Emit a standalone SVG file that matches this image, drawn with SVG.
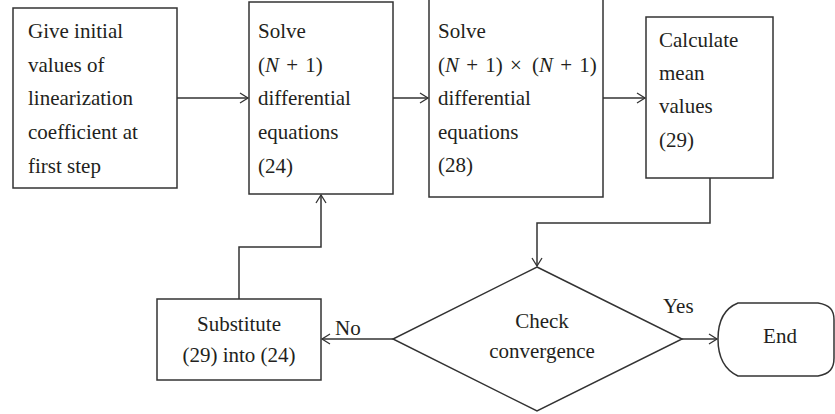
<svg xmlns="http://www.w3.org/2000/svg" width="835" height="414" viewBox="0 0 835 414">
<defs>
<marker id="arr" markerUnits="userSpaceOnUse" markerWidth="12" markerHeight="12" refX="9" refY="6" orient="auto">
<path d="M1,1 L9,6 L1,11" fill="none" stroke="#333" stroke-width="1.3"/>
</marker>
<style>
.box{fill:#fff;stroke:#333;stroke-width:1.5}
.ln{fill:none;stroke:#333;stroke-width:1.5}
text{font-family:'Liberation Serif','Times New Roman',serif;font-size:21px;fill:#231f20}
.c{text-anchor:middle}
.m{word-spacing:2px}
</style>
</defs>
<rect width="835" height="414" fill="#fff"/>
<g id="connectors">
<line class="ln" x1="177" y1="98" x2="248" y2="98" marker-end="url(#arr)"/>
<line class="ln" x1="393" y1="98" x2="428" y2="98" marker-end="url(#arr)"/>
<line class="ln" x1="603" y1="98" x2="645" y2="98" marker-end="url(#arr)"/>
<polyline class="ln" points="710,178 710,223 537,223 537,266" marker-end="url(#arr)"/>
<line class="ln" x1="393" y1="339" x2="322" y2="339" marker-end="url(#arr)"/>
<polyline class="ln" points="239,299 239,247 321,247 321,195" marker-end="url(#arr)"/>
<line class="ln" x1="682" y1="339" x2="717" y2="339" marker-end="url(#arr)"/>
<text x="335" y="335">No</text>
<text x="663" y="313">Yes</text>
</g>
<g id="n1">
<rect class="box" x="13" y="8" width="164" height="180"/>
<text x="28" y="38">Give initial</text>
<text x="28" y="72">values of</text>
<text x="28" y="105">linearization</text>
<text x="28" y="139">coefficient at</text>
<text x="28" y="173">first step</text>
</g>
<g id="n2">
<rect class="box" x="249" y="2" width="144" height="192"/>
<text x="258" y="38">Solve</text>
<text class="m" x="258" y="72">(<tspan font-style="italic">N</tspan> + 1)</text>
<text x="258" y="105">differential</text>
<text x="258" y="139">equations</text>
<text x="258" y="173">(24)</text>
</g>
<g id="n3">
<rect class="box" x="429" y="-1" width="174" height="198"/>
<text x="438" y="38">Solve</text>
<text class="m" x="438" y="72">(<tspan font-style="italic">N</tspan> + 1) <tspan x="510">×</tspan> <tspan x="532">(</tspan><tspan font-style="italic">N</tspan> + 1)</text>
<text x="438" y="105">differential</text>
<text x="438" y="139">equations</text>
<text x="438" y="172">(28)</text>
</g>
<g id="n4">
<rect class="box" x="646" y="17" width="127" height="161"/>
<text x="659" y="47">Calculate</text>
<text x="659" y="80">mean</text>
<text x="659" y="113">values</text>
<text x="659" y="147">(29)</text>
</g>
<g id="n5">
<polygon class="box" points="537,267 682,339 537,411 393,339"/>
<text class="c" x="542" y="328">Check</text>
<text class="c" x="542" y="358">convergence</text>
</g>
<g id="n6">
<rect class="box" x="157" y="299" width="164" height="81"/>
<text class="c" x="239" y="331">Substitute</text>
<text class="c" x="239" y="362">(29) into (24)</text>
</g>
<g id="n7">
<path class="box" d="M738,303 H818 C830,305 834,310 834,320 V358 C834,368 830,374 818,376 H738 C723,369 718,354 718,339 C718,324 723,309 738,303 Z"/>
<text class="c" x="780" y="343">End</text>
</g>
</svg>
